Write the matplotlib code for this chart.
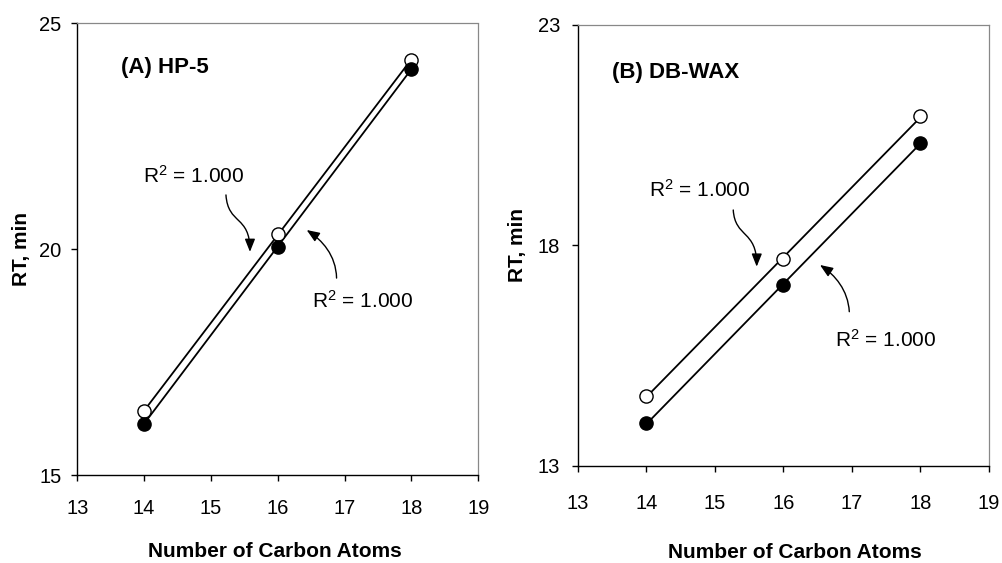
import numpy as np
import matplotlib
matplotlib.use('Agg')
import matplotlib.pyplot as plt
from matplotlib.path import Path
from matplotlib.patches import FancyArrowPatch

plt.rcParams['font.family'] = ['Liberation Sans', 'DejaVu Sans']
plt.rcParams['mathtext.fontset'] = 'custom'
plt.rcParams['mathtext.rm'] = 'Liberation Sans'
plt.rcParams['mathtext.it'] = 'Liberation Sans:italic'
plt.rcParams['mathtext.bf'] = 'Liberation Sans:bold'

# ---- data ----
carbons = [14, 16, 18]
hp5_open = [16.41, 20.34, 24.19]
hp5_filled = [16.14, 20.05, 23.99]
wax_open = [14.59, 17.69, 20.93]
wax_filled = [13.97, 17.10, 20.33]
x_ticks = [13, 14, 15, 16, 17, 18, 19]
hp5_yticks = [15, 20, 25]
wax_yticks = [13, 18, 23]
panel_titles = ['(A) HP-5', '(B) DB-WAX']
r2_text = r'R$\mathregular{^2}$ = 1.000'
x_title = 'Number of Carbon Atoms'
y_title = 'RT, min'

fig = plt.figure(figsize=(10.02, 5.63), dpi=100)
axA = fig.add_axes([0.0771, 0.1563, 0.4002, 0.8023])
axB = fig.add_axes([0.5768, 0.1723, 0.4102, 0.7833])


def style_axes(ax, yticks, xpad, ypad, xlab_pos, ylab_x):
    ax.set_xlim(x_ticks[0], x_ticks[-1])
    ax.set_ylim(yticks[0], yticks[-1])
    ax.set_xticks(x_ticks)
    ax.set_yticks(yticks)
    for s in ['top', 'right']:
        ax.spines[s].set_linestyle((0, (1, 1)))
        ax.spines[s].set_color('#888888')
        ax.spines[s].set_linewidth(0.9)
    for s in ['left', 'bottom']:
        ax.spines[s].set_color('black')
        ax.spines[s].set_linewidth(1.0)
    ax.tick_params(axis='both', direction='out', length=4.5, width=1.0,
                   labelsize=14.5, colors='black')
    ax.tick_params(axis='x', pad=xpad)
    ax.tick_params(axis='y', pad=ypad)
    ax.set_xlabel(x_title, fontsize=15, fontweight='bold')
    ax.set_ylabel(y_title, fontsize=15, fontweight='bold')
    ax.xaxis.set_label_coords(xlab_pos[0], xlab_pos[1])
    ax.xaxis.label.set_va('center')
    ax.yaxis.set_label_coords(ylab_x, 0.5)
    ax.yaxis.label.set_va('center')
    ax.yaxis.label.set_ha('center')


def draw_series(ax, vals, face):
    fit = np.polyfit(carbons, vals, 1)
    xx = np.array([min(carbons), max(carbons)])
    ax.plot(xx, np.polyval(fit, xx), color='black', lw=1.3, zorder=2)
    ax.plot(carbons, vals, linestyle='none', marker='o', ms=9.5,
            mfc=face, mec='black', mew=1.0, zorder=3)


def curved_arrow(ax, pts):
    path = Path(pts, [Path.MOVETO, Path.CURVE4, Path.CURVE4, Path.CURVE4])
    arr = FancyArrowPatch(path=path,
                          arrowstyle='-|>,head_length=0.55,head_width=0.22',
                          mutation_scale=14, color='black', lw=1.0, zorder=4)
    ax.add_patch(arr)


# Panel A
style_axes(axA, hp5_yticks, 13.0, 7.0, (0.493, -0.170), -0.138)
draw_series(axA, hp5_open, 'white')
draw_series(axA, hp5_filled, 'black')
axA.text(13.66, 24.03, panel_titles[0], fontsize=16, fontweight='bold',
         ha='left', va='center')
axA.text(13.99, 21.62, r2_text, fontsize=15, ha='left', va='center')
axA.text(16.51, 18.85, r2_text, fontsize=15, ha='left', va='center')
curved_arrow(axA, [(15.225, 21.20), (15.255, 20.535), (15.584, 20.757), (15.584, 19.94)])
curved_arrow(axA, [(16.88, 19.36), (16.871, 19.87), (16.662, 20.20), (16.433, 20.424)])

# Panel B
style_axes(axB, wax_yticks, 15.5, 8.5, (0.528, -0.197), -0.146)
draw_series(axB, wax_open, 'white')
draw_series(axB, wax_filled, 'black')
axB.text(13.49, 21.93, panel_titles[1], fontsize=16, fontweight='bold',
         ha='left', va='center')
axB.text(14.03, 19.26, r2_text, fontsize=15, ha='left', va='center')
axB.text(16.75, 15.86, r2_text, fontsize=15, ha='left', va='center')
curved_arrow(axB, [(15.267, 18.805), (15.292, 18.17), (15.613, 18.351), (15.609, 17.52)])
curved_arrow(axB, [(16.961, 16.499), (16.942, 16.991), (16.752, 17.331), (16.533, 17.558)])

fig.savefig('out.png', dpi=100)
